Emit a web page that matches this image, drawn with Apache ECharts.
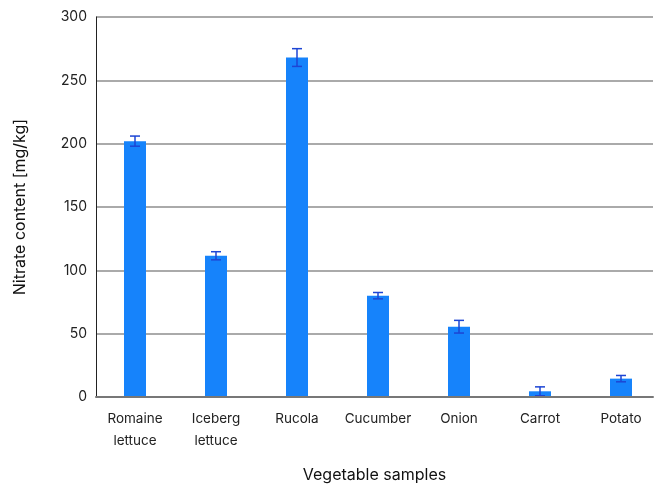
<!DOCTYPE html>
<html>
<head>
<meta charset="utf-8">
<script src="https://cdn.jsdelivr.net/npm/echarts@6/dist/echarts.min.js"></script>
<style>
  html, body { margin: 0; padding: 0; background: #fff; }
  #chart { width: 656px; height: 488px; }
</style>
</head>
<body>
<div id="chart"></div>
<script>
// Nitrate content per vegetable sample, mean and standard deviation
const categories = ['Romaine\nlettuce', 'Iceberg\nlettuce', 'Rucola', 'Cucumber', 'Onion', 'Carrot', 'Potato'];
const nitrate = [202, 111.5, 268, 80, 55.5, 4.5, 14.5];
const deviation = [4, 3.2, 7, 2.5, 5, 3.5, 2.5];
const yTicks = [0, 50, 100, 150, 200, 250, 300];

const FONT = 'Inter, "Noto Sans", sans-serif';
const chart = echarts.init(document.getElementById('chart'));

const errorData = categories.map((c, i) => [i, nitrate[i] - deviation[i], nitrate[i] + deviation[i]]);
const yMin = yTicks[0];
const yMax = yTicks[yTicks.length - 1];

chart.setOption({
  animation: false,
  // grid 0 holds the frame (y axis, gridlines, baseline); grid 1 holds the bars,
  // whose category bands are slightly wider than the frame
  grid: [
    { left: 96, right: 3, top: 17, bottom: 91, outerBoundsMode: 'none' },
    { left: 94.5, width: 567, top: 17, bottom: 91, outerBoundsMode: 'none' }
  ],
  xAxis: [
    {
      gridIndex: 0,
      type: 'value',
      min: 0,
      max: 1,
      z: 5,
      name: 'Vegetable samples',
      nameLocation: 'middle',
      nameGap: 70,
      nameTextStyle: { fontFamily: FONT, fontSize: 16, color: '#111' },
      axisLine: { show: true, onZero: false, lineStyle: { color: '#777', width: 2 } },
      axisTick: { show: false },
      axisLabel: { show: false },
      splitLine: { show: false }
    },
    {
      gridIndex: 1,
      type: 'category',
      data: categories,
      axisLine: { show: false },
      axisTick: { show: false },
      axisLabel: { interval: 0, fontFamily: FONT, fontSize: 13.5, color: '#222', margin: 11, lineHeight: 22 }
    }
  ],
  yAxis: [
    {
      gridIndex: 0,
      type: 'value',
      min: yMin,
      max: yMax,
      interval: 50,
      name: 'Nitrate content [mg/kg]',
      nameLocation: 'middle',
      nameGap: 68,
      nameTextStyle: { fontFamily: FONT, fontSize: 16, color: '#111' },
      axisLine: { show: true, lineStyle: { color: '#222', width: 1 } },
      axisTick: { show: false },
      axisLabel: { fontFamily: FONT, fontSize: 14, color: '#222', margin: 9 },
      splitLine: { lineStyle: { color: '#aaa', width: 2 } }
    },
    {
      gridIndex: 1,
      type: 'value',
      min: yMin,
      max: yMax,
      interval: 50,
      show: false
    }
  ],
  series: [
    {
      type: 'bar',
      xAxisIndex: 1,
      yAxisIndex: 1,
      data: nitrate,
      barWidth: 22,
      itemStyle: { color: '#1683fb' },
      z: 2
    },
    {
      type: 'custom',
      xAxisIndex: 1,
      yAxisIndex: 1,
      data: errorData,
      z: 3,
      renderItem: function (params, api) {
        const x = api.value(0);
        const lo = api.coord([x, api.value(1)]);
        const hi = api.coord([x, api.value(2)]);
        const half = 5;
        const style = { stroke: '#1d45d4', lineWidth: 1.5 };
        return {
          type: 'group',
          children: [
            { type: 'line', shape: { x1: lo[0], y1: lo[1], x2: hi[0], y2: hi[1] }, style: style },
            { type: 'line', shape: { x1: lo[0] - half, y1: lo[1], x2: lo[0] + half, y2: lo[1] }, style: style },
            { type: 'line', shape: { x1: hi[0] - half, y1: hi[1], x2: hi[0] + half, y2: hi[1] }, style: style }
          ]
        };
      }
    }
  ]
});
</script>
</body>
</html>
